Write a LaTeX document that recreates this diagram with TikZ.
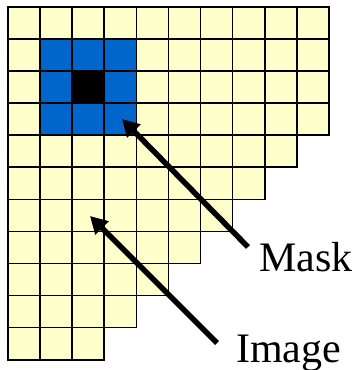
\documentclass[tikz,border=0pt]{standalone}
\usepackage{fontspec}
\setmainfont{Liberation Serif}
\usetikzlibrary{arrows.meta}
\definecolor{imgyellow}{HTML}{FFFFCC}
\definecolor{maskblue}{HTML}{0066CC}
\tikzset{
  cell/.style={draw=black, line width=1.6pt, fill=imgyellow},
  pointer/.style={line width=5.5pt, -{Triangle[length=17pt,width=18pt]}},
  label/.style={font=\fontsize{42}{46}\selectfont, inner sep=0pt, anchor=base west}
}
\begin{document}
\begin{tikzpicture}[x=32.1pt, y=-32.1pt]
  \useasboundingbox (-0.249,-0.209) rectangle (10.872,11.318);

  % image cells, one row after another
  \foreach \r/\w in {0/10,1/10,2/10,3/10,4/9,5/8,6/7,7/6,8/5,9/4,10/3} {
    \foreach \c in {1,...,\w} {
      \draw[cell] (\c-1,\r) rectangle (\c,\r+1);
    }
  }

  % mask cells
  \foreach \c in {1,2,3} {
    \foreach \r in {1,2,3} {
      \draw[cell, fill=maskblue] (\c,\r) rectangle (\c+1,\r+1);
    }
  }
  \draw[cell, fill=black] (2,2) rectangle (3,3);

  % labels
  \node[label] (mask) at (7.819,8.234) {Mask};
  \node[label] (image) at (7.103,11.069) {Image};

  % arrows
  \coordinate (maskFrom) at (7.477,7.486);
  \coordinate (maskTo) at (3.551,3.498);
  \coordinate (imageFrom) at (6.511,10.477);
  \coordinate (imageTo) at (2.555,6.520);
  \draw[pointer] (maskFrom) -- (maskTo);
  \draw[pointer] (imageFrom) -- (imageTo);
\end{tikzpicture}
\end{document}
